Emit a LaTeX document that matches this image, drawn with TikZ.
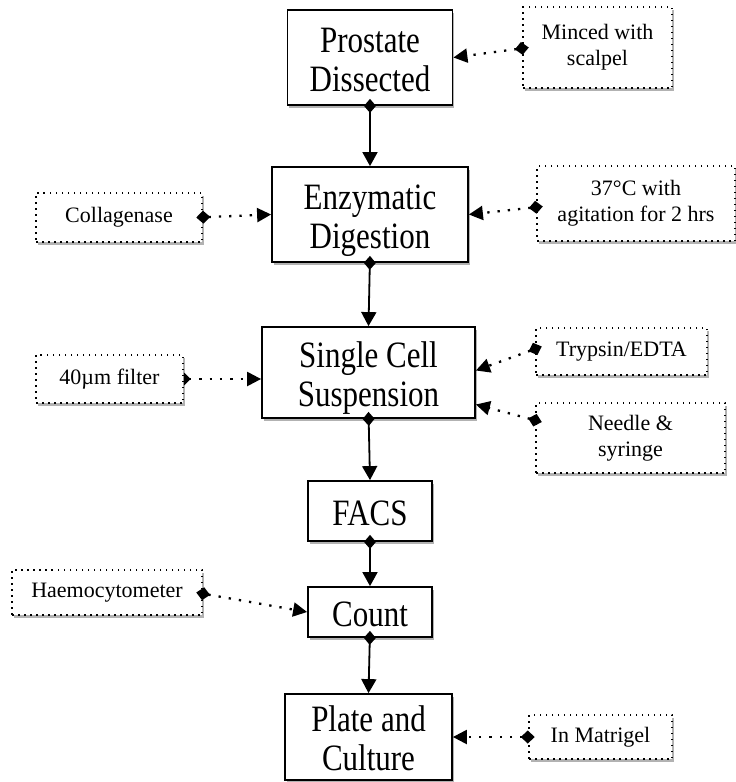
\documentclass[tikz,border=0pt]{standalone}
\usepackage{fontspec}
\setmainfont{Liberation Serif}
\usetikzlibrary{arrows.meta,shadows}
\newcommand\tallstack[1]{\raisebox{-13.8pt}[0pt][0pt]{\scalebox{1}[1.2]{\begin{tabular}{@{}c@{}}#1\end{tabular}}}}
\begin{document}
\begin{tikzpicture}[x=1pt,y=-1pt,
  shad/.style={drop shadow={shadow xshift=1.5pt,shadow yshift=-2.5pt,opacity=0.3,fill=black}},
  mainbox/.style={draw, line width=1.8pt, fill=white, align=center,
    font=\fontsize{31}{32.5}\selectfont, inner sep=0pt, shad},
  notebox/.style={draw, line width=1.5pt, dash pattern=on 1.5pt off 4.5pt, fill=white, align=center,
    font=\fontsize{22}{26}\selectfont, inner sep=0pt, shad},
  flow/.style={line width=1.8pt, {Diamond[length=14pt,width=12pt]}-{Triangle[length=14pt,width=15pt]}},
  link/.style={line width=2.3pt, dash pattern=on 2.3pt off 8pt,
    {Diamond[length=14pt,width=13pt]}-{Triangle[length=14pt,width=14pt]}},
  halflink/.style={line width=2.3pt, dash pattern=on 2.3pt off 8pt,
    {Triangle[reversed,length=7pt,width=13pt]}-{Triangle[length=14pt,width=14pt]}}
]
\useasboundingbox[fill=white] (0,0) rectangle (736,782);

% main boxes
\node[mainbox, minimum width=165pt, minimum height=95pt] (ps) at (370,57.5) {\tallstack{Prostate\\Dissected}};
\node[mainbox, minimum width=196pt, minimum height=95pt] (ed) at (370,214.5) {\tallstack{Enzymatic\\Digestion}};
\node[mainbox, minimum width=213pt, minimum height=91pt] (sc) at (368.5,372.5) {\tallstack{Single Cell\\Suspension}};
\node[mainbox, minimum width=124pt, minimum height=60pt] (facs) at (370,511) {\tallstack{FACS}};
\node[mainbox, minimum width=124pt, minimum height=50pt] (count) at (370,612) {\tallstack{Count}};
\node[mainbox, minimum width=167pt, minimum height=86pt] (plate) at (368.5,737) {\tallstack{Plate and\\Culture}};

% note boxes
\node[notebox, minimum width=149pt, minimum height=81pt] (mn) at (597.5,47.5) {Minced with\\scalpel};
\node[notebox, minimum width=198pt, minimum height=75pt] (temp) at (636,203.5) {37°C with\\agitation for 2 hrs};
\node[notebox, minimum width=166pt, minimum height=49pt] (coll) at (119,217.5) {Collagenase};
\node[notebox, minimum width=147pt, minimum height=48pt] (filt) at (109.5,379) {40µm filter};
\node[notebox, minimum width=171pt, minimum height=47pt] (tryp) at (621.5,351.5) {Trypsin/EDTA};
\node[notebox, minimum width=189pt, minimum height=70pt] (needle) at (630.5,438) {Needle \&\\syringe};
\node[notebox, minimum width=190pt, minimum height=45pt] (haem) at (107,592.5) {Haemocytometer};
\node[notebox, minimum width=143pt, minimum height=44pt] (mat) at (600.5,737) {In Matrigel};

% main flow
\draw[flow] ([yshift=7pt]ps.south) -- (ed.north);
\draw[flow] ([yshift=7pt]ed.south) -- (sc.north);
\draw[flow] ([yshift=7pt]sc.south) -- (facs.north);
\draw[flow] ([yshift=7pt]facs.south) -- (count.north);
\draw[flow] ([yshift=7pt]count.south) -- (plate.north);

% links
\draw[link] ([xshift=6.5pt]mn.west) -- (ps.east);
\draw[link] ([xshift=6.5pt,yshift=-3pt]temp.west) -- (ed.east);
\draw[link] ([xshift=-6.5pt]coll.east) -- (ed.west);
\draw[halflink] (filt.east) -- (filt.east -| sc.west);
\draw[link] ([xshift=6.5pt,yshift=5pt]tryp.west) -- ([yshift=2pt]sc.east);
\draw[link] ([xshift=6.5pt,yshift=16pt]needle.west) -- ([yshift=-32pt]sc.east);
\draw[link] ([xshift=-6.5pt]haem.east) -- (count.west);
\draw[link] ([xshift=6.5pt]mat.west) -- (plate.east);
\end{tikzpicture}
\end{document}
